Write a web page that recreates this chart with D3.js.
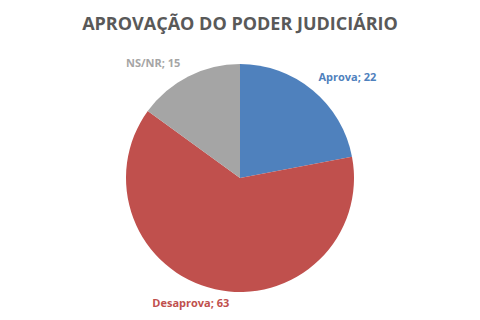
<!DOCTYPE html>
<html>
<head>
<meta charset="utf-8">
<script src="https://cdn.jsdelivr.net/npm/d3@7"></script>
<style>
  body { margin: 0; background: #fff; }
</style>
</head>
<body>
<div id="chart"></div>
<script>
var categories = ["Aprova", "Desaprova", "NS/NR"];
var values = [22, 63, 15];
var colors = ["#4F81BD", "#C0504D", "#A5A5A5"];
var labelColors = ["#4F81BD", "#C0504D", "#A5A5A5"];

var width = 480, height = 320;
var cx = 240, cy = 178, radius = 114;

var svg = d3.select("#chart").append("svg")
    .attr("width", width)
    .attr("height", height)
    .style("font-family", "'Open Sans', sans-serif");

// title
svg.append("text")
    .attr("x", width / 2)
    .attr("y", 30)
    .attr("text-anchor", "middle")
    .attr("fill", "#595959")
    .style("font-size", "18px")
    .style("font-weight", "bold")
    .text("APROVAÇÃO DO PODER JUDICIÁRIO");

var data = categories.map(function(c, i) { return {name: c, value: values[i], i: i}; });

var pie = d3.pie()
    .sort(null)
    .value(function(d) { return d.value; });

var arc = d3.arc().innerRadius(0).outerRadius(radius);

var g = svg.append("g").attr("transform", "translate(" + cx + "," + cy + ")");

var arcs = pie(data);

g.selectAll(".slice")
    .data(arcs)
    .enter().append("path")
        .attr("class", "slice")
        .attr("d", arc)
        .attr("fill", function(d) { return colors[d.data.i]; });

// labels outside, positioned along the bisector
var labelArc = d3.arc().innerRadius(radius + 20).outerRadius(radius + 20);
var offsets = [[22, 6], [-20, -2], [-26, 8]];

g.selectAll(".lbl")
    .data(arcs)
    .enter().append("text")
        .attr("class", "lbl")
        .attr("text-anchor", "middle")
        .attr("fill", function(d) { return labelColors[d.data.i]; })
        .style("font-size", "11px")
        .style("font-weight", "bold")
        .attr("x", function(d) { return labelArc.centroid(d)[0] + offsets[d.data.i][0]; })
        .attr("y", function(d) { return labelArc.centroid(d)[1] + offsets[d.data.i][1]; })
        .text(function(d) { return d.data.name + "; " + d.data.value; });
</script>
</body>
</html>
